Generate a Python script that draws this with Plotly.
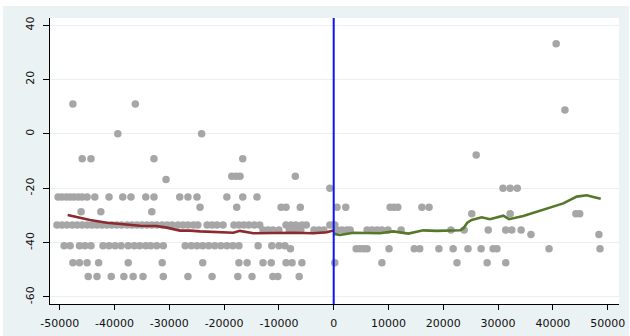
import plotly.graph_objects as go

# ---------------- data ----------------
# scatter points grouped by their (approximately discrete) y level
row_p33 = [40600]
row_p11 = [-47600, -36200]
row_p9 = [42200]
row_0 = [-39400, -24100]
row_m8 = [26000]
row_m9 = [-45900, -44300, -32800, -16600]
row_m16 = [-18600, -17800, -17100, -7000]
row_m17 = [-30600]
row_m20 = [-700, 30900, 32200, 33500]
row_m23 = [-50300, -49600, -48800, -48100, -47400, -46600, -45900, -45000, -43600,
           -41000, -38500, -37000, -34300, -32800, -28100, -26600, -24950, -19500,
           -16600, -14000]
row_m27 = [-24400, -17700, -9600, -8700, -6100, 600, 2200, 10300, 11000, 11700,
           16100, 17400]
row_m29 = [-46100, -42500, -33200]
row_m29b = [25200, 32200, 44200, 44900]
row_m33 = [-50500, -49600, -48700, -47700, -46800, -45900, -45000, -44100, -43200,
           -42300, -41400, -40500, -39600, -38700, -37700, -36800, -35900, -35000,
           -34100, -33200, -32300, -31300, -30400, -29500, -28400, -27500, -26600,
           -25600, -24800, -23100, -22200, -21300, -20200, -18200, -17300, -16400,
           -15500, -14500, -13500, -8700, -7800, -6900, -5800, -5000, -700, -100, 200]
row_m35 = [-12900, -12000, -11100, -10000, -8100, -7000, -6000, -3600, -2700, -1800,
           600, 1500, 2400, 3000, 6100, 7000, 7900, 8800, 9900, 12300, 21400, 23800,
           28200, 31400, 32500, 34200]
row_m37 = [36000, 48400]
row_m41 = [-49200, -48100, -46400, -45400, -44300, -42100, -41000, -39900, -38800,
           -37500, -36400, -35400, -34300, -33400, -32300, -31100, -27100, -26000,
           -24950, -23900, -22800, -21700, -20600, -19500, -18400, -17300, -13800,
           -11300, -10000, -8900]
row_m42 = [-7900, 4100, 4800, 5500, 6100, 10100, 14700, 15700, 19200, 21800, 24500,
           26900, 29100, 29800, 39300, 48600]
row_m47 = [-47600, -46400, -45000, -42900, -37500, -31300, -23900, -17300, -15800,
           -12900, -11400, -8700, -7600, -5800, 200, 8800, 22500, 28000, 31400]
row_m52 = [-44800, -43200, -40600, -38300, -36600, -34800, -31100, -26600, -22200,
           -17500, -14900, -11100, -10200, -6300]

rows = [
    (33.1, row_p33), (11.0, row_p11), (8.8, row_p9), (0.0, row_0), (-7.8, row_m8),
    (-9.2, row_m9), (-15.6, row_m16), (-16.8, row_m17), (-20.0, row_m20),
    (-23.2, row_m23), (-27.0, row_m27), (-28.7, row_m29), (-29.4, row_m29b),
    (-33.5, row_m33), (-35.4, row_m35), (-37.0, row_m37), (-41.2, row_m41),
    (-42.3, row_m42), (-47.4, row_m47), (-52.5, row_m52),
]

# fitted lines
left_x = [-48550, -46300, -44470, -41430, -38400, -35350, -32300, -30480, -28050,
          -26230, -24400, -21970, -19530, -18320, -17100, -14670, -11020, -7370,
          -3720, -1280, -70]
left_y = [-29.85, -30.8, -31.7, -32.7, -33.3, -33.8, -33.9, -34.5, -35.6, -35.6,
          -35.9, -36.2, -36.4, -36.4, -35.7, -36.6, -36.5, -36.4, -36.6, -36.2, -35.6]

right_x = [100, 1150, 3580, 8450, 10880, 13620, 16350, 18790, 23050, 23650, 24380,
           25180, 27010, 28520, 30950, 32000, 34600, 38250, 41900, 44350, 46170,
           47380, 48730]
right_y = [-36.8, -37.2, -36.4, -36.6, -35.9, -36.7, -35.5, -35.7, -35.5, -34.8,
           -32.7, -31.7, -30.7, -31.4, -30.1, -31.4, -30.2, -27.8, -25.6, -23.1,
           -22.6, -23.2, -23.9]

x_ticks = [-50000, -40000, -30000, -20000, -10000, 0, 10000, 20000, 30000, 40000, 50000]
y_ticks = [-60, -40, -20, 0, 20, 40]

# ---------------- figure ----------------
sx, sy = [], []
for yv, xs in rows:
    for xv in xs:
        sx.append(xv)
        sy.append(yv)

fig = go.Figure()
fig.add_trace(go.Scatter(x=sx, y=sy, mode="markers",
                         marker=dict(color="#a6a6a6", size=7.5, line=dict(width=0)),
                         showlegend=False, hoverinfo="skip"))
fig.add_trace(go.Scatter(x=left_x, y=left_y, mode="lines",
                         line=dict(color="#8c2a2e", width=2.6), showlegend=False))
fig.add_trace(go.Scatter(x=right_x, y=right_y, mode="lines",
                         line=dict(color="#55782a", width=2.6), showlegend=False))

W, H = 630, 336
ml, mr, mt, mb = 50, 11, 18, 32
pw, ph = W - ml - mr, H - mt - mb


def px_to_paper_x(p):
    return (p - ml) / pw


def px_to_paper_y(p):
    return (H - mb - p) / ph


fig.update_layout(
    width=W, height=H,
    margin=dict(l=ml, r=mr, t=mt, b=mb, pad=0, autoexpand=False),
    paper_bgcolor="white",
    plot_bgcolor="white",
    font=dict(family="DejaVu Sans", size=11, color="#111111"),
    shapes=[
        dict(type="rect", xref="paper", yref="paper",
             x0=px_to_paper_x(3), x1=px_to_paper_x(629),
             y0=px_to_paper_y(336), y1=px_to_paper_y(6),
             fillcolor="#eaf2f3", line=dict(width=0), layer="below"),
        dict(type="rect", xref="paper", yref="paper", x0=0, x1=1, y0=0, y1=1,
             fillcolor="white", line=dict(width=0), layer="below"),
        dict(type="line", xref="x", yref="paper", x0=0, x1=0, y0=0, y1=1,
             line=dict(color="#0a14ff", width=2), layer="above"),
    ],
)

fig.update_xaxes(
    range=[-51775, 52067], tickvals=x_ticks, ticktext=[str(v) for v in x_ticks],
    automargin=False,
    showgrid=False, zeroline=False, showline=True, linecolor="black", linewidth=1,
    ticks="outside", ticklen=5, tickcolor="black", tickwidth=1,
    ticklabelstandoff=4, tickfont=dict(size=11, family="DejaVu Sans", color="#111111"),
)
fig.update_yaxes(
    range=[-62.6, 42.6], tickvals=y_ticks, ticktext=[str(v) for v in y_ticks],
    automargin=False,
    showgrid=True, gridcolor="#e8f0f2", gridwidth=1, zeroline=False,
    showline=True, linecolor="black", linewidth=1,
    ticks="outside", ticklen=6, tickcolor="black", tickwidth=1, tickangle=-90,
    ticklabelstandoff=5, tickfont=dict(size=11, family="DejaVu Sans", color="#111111"),
)

fig.write_html("out.html")
